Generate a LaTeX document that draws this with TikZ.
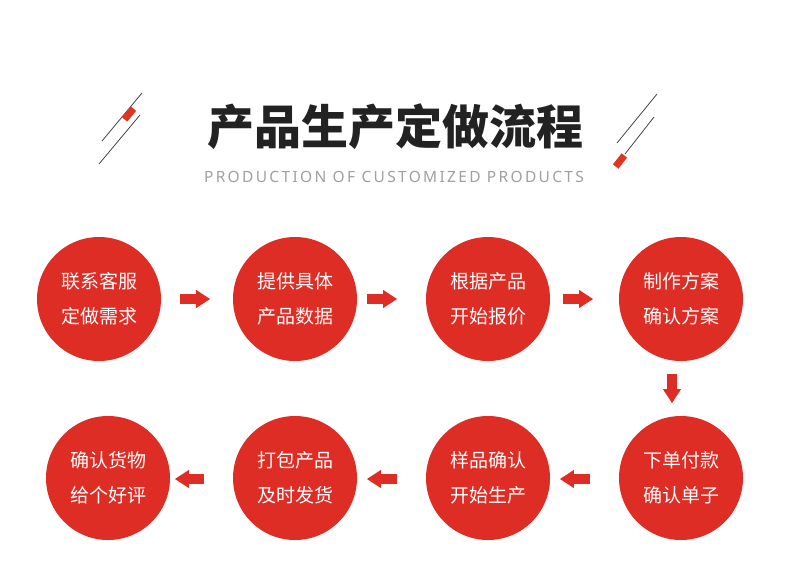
\documentclass[tikz,border=0pt]{standalone}
\usepackage{fontspec}
\usetikzlibrary{arrows.meta,calc}
\newfontfamily\cjk{Noto Sans CJK SC}
\newfontfamily\subfont[LetterSpace=15]{Noto Sans}
\definecolor{mred}{HTML}{DD2D25}
\definecolor{mdark}{HTML}{222222}
\definecolor{mgray}{HTML}{A0A0A0}
\definecolor{mline}{HTML}{444444}
\tikzset{
  stepcircle/.style={circle, fill=mred, inner sep=0pt, minimum size=124pt,
    text=white, align=center, font=\cjk\fontsize{19}{35}\selectfont},
  flowarrow/.style={draw=mred, line width=10pt, -{Triangle[length=14pt,width=17pt]}},
  decoline/.style={draw=mline, line width=0.8pt},
}
\begin{document}
\begin{tikzpicture}[x=1pt,y=-1pt]
\useasboundingbox[fill=white] (0,0) rectangle (790,587);
% title
\node[font=\cjk\bfseries\fontsize{47}{50}\selectfont, text=mdark] (title) at (395,127) {产品生产定做流程};
\node[font=\subfont\fontsize{15.5}{17}\selectfont, text=mgray] (sub) at (394,177) {PRODUCTION OF CUSTOMIZED PRODUCTS};
% decorations left
\draw[decoline] (102,141) -- (142,93);
\draw[decoline] (99,164) -- (140,115);
\fill[mred!90!orange] (136.17,110.86) -- (130.79,106.38) -- (121.83,117.14) -- (127.21,121.62) -- cycle;
% decorations right
\draw[decoline] (617,143) -- (657,94);
\draw[decoline] (625,154) -- (654,117);
\fill[mred!90!orange] (627.07,157.65) -- (621.57,153.33) -- (612.93,164.35) -- (618.43,168.67) -- cycle;
% circles
\node[stepcircle] (c1) at (99,299) {联系客服\\定做需求};
\node[stepcircle] (c2) at (295,299) {提供具体\\产品数据};
\node[stepcircle] (c3) at (488,299) {根据产品\\开始报价};
\node[stepcircle] (c4) at (681,299) {制作方案\\确认方案};
\node[stepcircle] (c5) at (681,478) {下单付款\\确认单子};
\node[stepcircle] (c6) at (488,478) {样品确认\\开始生产};
\node[stepcircle] (c7) at (295,478) {打包产品\\及时发货};
\node[stepcircle] (c8) at (108,478) {确认货物\\给个好评};
% arrows
\draw[flowarrow] ($(c1.east)+(19,0)$) -- ++(30,0);
\draw[flowarrow] ($(c2.east)+(10,0)$) -- ++(30,0);
\draw[flowarrow] ($(c3.east)+(13,0)$) -- ++(30,0);
\draw[flowarrow] ($(c4.south)+(-9,13)$) -- ++(0,29);
\draw[flowarrow] ($(c5.west)+(-29,1)$) -- ++(-30,0);
\draw[flowarrow] ($(c6.west)+(-29,1)$) -- ++(-30,0);
\draw[flowarrow] ($(c7.west)+(-29,1)$) -- ++(-29,0);
\end{tikzpicture}
\end{document}
